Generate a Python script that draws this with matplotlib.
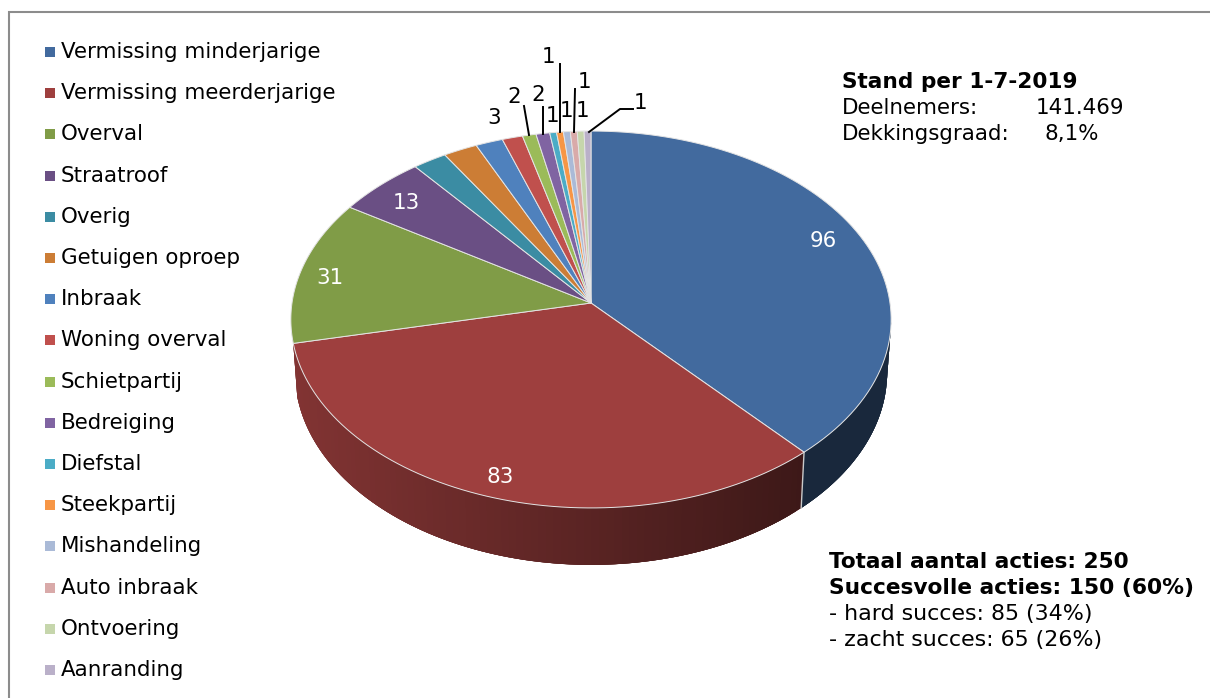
import numpy as np
import matplotlib
matplotlib.use("Agg")
import matplotlib.pyplot as plt
from matplotlib.colors import to_rgb

# slices, clockwise from the top
categories = [
    "Vermissing minderjarige", "Vermissing meerderjarige", "Overval", "Straatroof",
    "Overig", "Getuigen oproep", "Inbraak", "Woning overval", "Schietpartij",
    "Bedreiging", "Diefstal", "Steekpartij", "Mishandeling", "Auto inbraak",
    "Ontvoering", "Aanranding",
]
values = [96, 83, 31, 13, 5, 5, 4, 3, 2, 2, 1, 1, 1, 1, 1, 1]
colors = [
    "#426a9e", "#9e3f3e", "#809c47", "#6a4f84", "#3b8ca3", "#cc7d35", "#4f81bd", "#c0504d",
    "#9bbb59", "#8064a2", "#4bacc6", "#f79646", "#aabad7", "#d9aaa9", "#c6d6ac", "#bab0c9",
]

# which slices get a label, and where it goes (pixels)
big_labels = [0, 1, 2, 3]
big_label_pos = [(823, 241), (500, 477), (330, 278), (406, 203)]
small_labels = [7, 8, 9, 10, 11, 12, 13, 14, 15]
small_label_pos = [(494, 118), (514, 97), (538, 95), (552, 116), (549, 57),
                   (566, 111), (585, 82), (582, 111), (641, 103)]
leaders = [
    [(524, 106), (529, 135)],
    [(543, 107), (543, 134)],
    [(560, 64), (560, 132)],
    [(575, 89), (574, 132)],
    [(589, 132), (620, 109), (633, 109)],
]

FS = 15.4
FS_NOTE = 15.9
PERSP = 0.0875


def disk(angle, cy, a, b):
    # point on a tilted disk seen in perspective, angle clockwise from the top
    x = np.sin(angle)
    y = np.cos(angle)
    w = 1 + PERSP * y
    return 591 + a * x / w, cy - b * y / w


def top(angle):
    return disk(angle, 303, 299, 187)


def low(angle):
    return disk(angle, 355.6, 295, 191)


def side_shade(x):
    return np.clip(0.82 - (x - 295) * 0.43 / 505, 0.38, 0.82)


fig = plt.figure(figsize=(12.10, 6.98), dpi=100)
ax = fig.add_axes([0, 0, 1, 1])
ax.set_xlim(0, 1210)
ax.set_ylim(698, 0)
ax.axis("off")

# frame, only left and top are in the picture
ax.plot([8.5, 8.5, 1210], [698, 11.5, 11.5], color="#8c8c8c", lw=1.5, solid_joinstyle="miter")

bounds = np.cumsum([0] + values) / sum(values) * 2 * np.pi

# side of the pie, only the two big slices show one
for i in range(2):
    start = max(bounds[i], np.pi / 2 + 0.1)
    angles = np.linspace(start, bounds[i + 1], 90)
    step = angles[1] - angles[0]
    base = np.array(to_rgb(colors[i]))
    # solid layer first, so the strips do not let white through
    xt, yt = top(angles)
    xl, yl = low(angles)
    ax.fill(np.r_[xt, xl[::-1]], np.r_[yt, yl[::-1]], color=base * side_shade(xt.mean()),
            lw=0, zorder=2)
    for a0 in angles[:-1]:
        a1 = min(a0 + step * 3, bounds[i + 1])
        x0, y0 = top(a0)
        x1, y1 = top(a1)
        x2, y2 = low(a1)
        x3, y3 = low(a0)
        ax.fill([x0, x1, x2, x3], [y0, y1, y2, y3], color=base * side_shade(x0), lw=0, zorder=2)

# seam between the blue and red sides
x0, y0 = top(bounds[1])
x1, y1 = low(bounds[1])
ax.plot([x0, x1], [y0, y1], color="#c9c9c9", lw=1, zorder=3)

# top of the pie
for i in range(len(values)):
    angles = np.linspace(bounds[i], bounds[i + 1], 80)
    xs, ys = top(angles)
    ax.fill(np.r_[591, xs], np.r_[303, ys], facecolor=colors[i], edgecolor="#e4e4e4",
            lw=0.7, joinstyle="round", zorder=4)

# data labels
for i, pos in zip(big_labels, big_label_pos):
    ax.text(pos[0], pos[1], str(values[i]), color="white", fontsize=FS,
            ha="center", va="center", zorder=6)
for i, pos in zip(small_labels, small_label_pos):
    ax.text(pos[0], pos[1], str(values[i]), color="black", fontsize=FS,
            ha="center", va="center", zorder=6)
for line in leaders:
    ax.plot([p[0] for p in line], [p[1] for p in line], color="black", lw=1.4, zorder=5)

# legend
for i, name in enumerate(categories):
    y = 52 + i * 41.2
    ax.scatter([50], [y], marker="s", s=48, color=colors[i], linewidths=0, zorder=5)
    ax.text(61, y, name, fontsize=FS, va="center", ha="left", color="black")

# notes
ax.text(842, 82, "Stand per 1-7-2019", fontsize=15.6, fontweight="bold", va="center")
ax.text(842, 108, "Deelnemers:", fontsize=FS, va="center")
ax.text(1124, 108, "141.469", fontsize=FS, va="center", ha="right")
ax.text(842, 134, "Dekkingsgraad:", fontsize=FS, va="center")
ax.text(1099, 134, "8,1%", fontsize=FS, va="center", ha="right")

ax.text(829, 562, "Totaal aantal acties: 250", fontsize=15.6, fontweight="bold", va="center")
ax.text(829, 588, "Succesvolle acties: 150 (60%)", fontsize=15.7, fontweight="bold", va="center")
ax.text(829, 614, "- hard succes: 85 (34%)", fontsize=FS_NOTE, va="center")
ax.text(829, 640, "- zacht succes: 65 (26%)", fontsize=FS_NOTE, va="center")

fig.savefig("out.png", dpi=100)
